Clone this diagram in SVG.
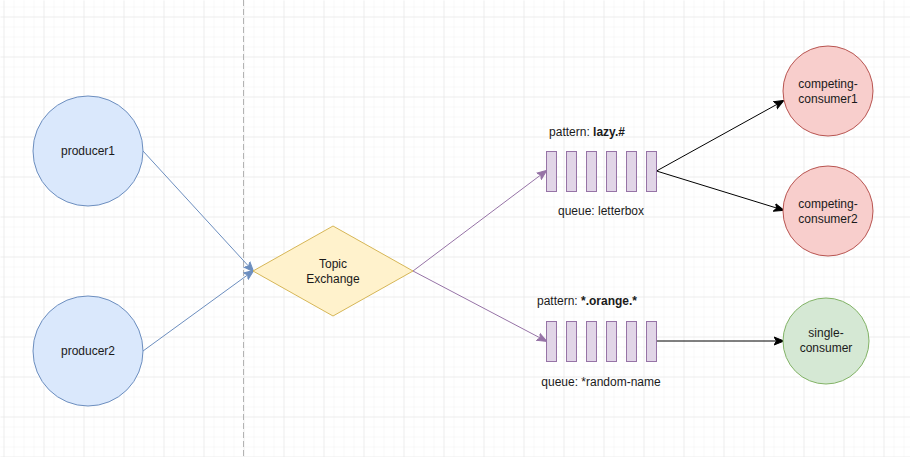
<svg xmlns="http://www.w3.org/2000/svg" width="910" height="457" viewBox="0 0 910 457">
<style>
text{font-family:"Liberation Sans",Arial,sans-serif;font-size:12px;fill:#1a1a1a;text-anchor:middle}
.blue{fill:#dae8fc;stroke:#6c8ebf;stroke-width:1}
.yel{fill:#fff2cc;stroke:#d6b656;stroke-width:1}
.pur{fill:#e1d5e7;stroke:#9673a6;stroke-width:1}
.red{fill:#f8cecc;stroke:#b85450;stroke-width:1}
.grn{fill:#d5e8d4;stroke:#82b366;stroke-width:1}
.eb{stroke:#6c8ebf;stroke-width:1;fill:none}
.ep{stroke:#9673a6;stroke-width:1;fill:none}
.ek{stroke:#000;stroke-width:1;fill:none}
</style>
<defs>
<pattern id="minor" x="3" y="6" width="10" height="10" patternUnits="userSpaceOnUse">
<path d="M0 0V10M0 0H10" stroke="#f2f2f2" stroke-width="1" fill="none"/>
</pattern>
<pattern id="major" x="3" y="16" width="40" height="40" patternUnits="userSpaceOnUse">
<path d="M0 0V40M0 0H40" stroke="#e3e3e3" stroke-width="1" fill="none"/>
</pattern>
<marker id="ab" viewBox="0 0 10 10" refX="9" refY="5" markerWidth="10" markerHeight="10" markerUnits="userSpaceOnUse" orient="auto">
<path d="M0 1L10 5L0 9L2.5 5Z" fill="#6c8ebf" stroke="#6c8ebf" stroke-width="1"/>
</marker>
<marker id="ap" viewBox="0 0 10 10" refX="9" refY="5" markerWidth="10" markerHeight="10" markerUnits="userSpaceOnUse" orient="auto">
<path d="M0 1L10 5L0 9L2.5 5Z" fill="#9673a6" stroke="#9673a6" stroke-width="1"/>
</marker>
<marker id="ak" viewBox="0 0 10 10" refX="9" refY="5" markerWidth="10" markerHeight="10" markerUnits="userSpaceOnUse" orient="auto">
<path d="M0 1L10 5L0 9L2.5 5Z" fill="#000" stroke="#000" stroke-width="1"/>
</marker>
</defs>
<rect width="910" height="457" fill="#fff"/>
<rect width="910" height="457" fill="url(#minor)" transform="translate(0.5,0.5)"/>
<rect width="910" height="457" fill="url(#major)" transform="translate(0.5,0.5)"/>
<line x1="243.5" y1="0" x2="243.5" y2="457" stroke="#b3b3b3" stroke-width="1" stroke-dasharray="6 3"/>

<g id="connectors">
<line class="eb" x1="143" y1="151" x2="253" y2="271" marker-end="url(#ab)"/>
<line class="eb" x1="143" y1="351" x2="253" y2="271" marker-end="url(#ab)"/>
<line class="ep" x1="413" y1="271" x2="546" y2="171" marker-end="url(#ap)"/>
<line class="ep" x1="413" y1="271" x2="546" y2="341" marker-end="url(#ap)"/>
<line class="ek" x1="656.5" y1="171" x2="783" y2="101" marker-end="url(#ak)"/>
<line class="ek" x1="656.5" y1="171" x2="783" y2="210" marker-end="url(#ak)"/>
<line class="ek" x1="656.5" y1="341" x2="783" y2="341" marker-end="url(#ak)"/>
</g>

<g id="producer1">
<circle class="blue" cx="88" cy="151" r="55"/>
<text x="88" y="155">producer1</text>
</g>
<g id="producer2">
<circle class="blue" cx="88" cy="351" r="55"/>
<text x="88" y="355">producer2</text>
</g>
<g id="exchange">
<path class="yel" d="M253 271L333 226L413 271L333 316Z"/>
<text x="333" y="268">Topic</text>
<text x="333" y="283">Exchange</text>
</g>
<g id="queue1">
<rect class="pur" x="546.5" y="151.5" width="10" height="40"/>
<rect class="pur" x="566.5" y="151.5" width="10" height="40"/>
<rect class="pur" x="586.5" y="151.5" width="10" height="40"/>
<rect class="pur" x="606.5" y="151.5" width="10" height="40"/>
<rect class="pur" x="626.5" y="151.5" width="10" height="40"/>
<rect class="pur" x="646.5" y="151.5" width="10" height="40"/>
<text x="587" y="136">pattern: <tspan font-weight="bold">lazy.#</tspan></text>
<text x="601" y="215">queue: letterbox</text>
</g>
<g id="queue2">
<rect class="pur" x="546.5" y="321.5" width="10" height="40"/>
<rect class="pur" x="566.5" y="321.5" width="10" height="40"/>
<rect class="pur" x="586.5" y="321.5" width="10" height="40"/>
<rect class="pur" x="606.5" y="321.5" width="10" height="40"/>
<rect class="pur" x="626.5" y="321.5" width="10" height="40"/>
<rect class="pur" x="646.5" y="321.5" width="10" height="40"/>
<text x="587" y="305">pattern: <tspan font-weight="bold">*.orange.*</tspan></text>
<text x="601" y="386">queue: *random-name</text>
</g>
<g id="consumer1">
<circle class="red" cx="828" cy="91" r="45"/>
<text x="828" y="88">competing-</text>
<text x="828" y="103">consumer1</text>
</g>
<g id="consumer2">
<circle class="red" cx="828" cy="211" r="45"/>
<text x="828" y="208">competing-</text>
<text x="828" y="223">consumer2</text>
</g>
<g id="single">
<circle class="grn" cx="826" cy="341" r="43"/>
<text x="826" y="337">single-</text>
<text x="826" y="352">consumer</text>
</g>
</svg>
